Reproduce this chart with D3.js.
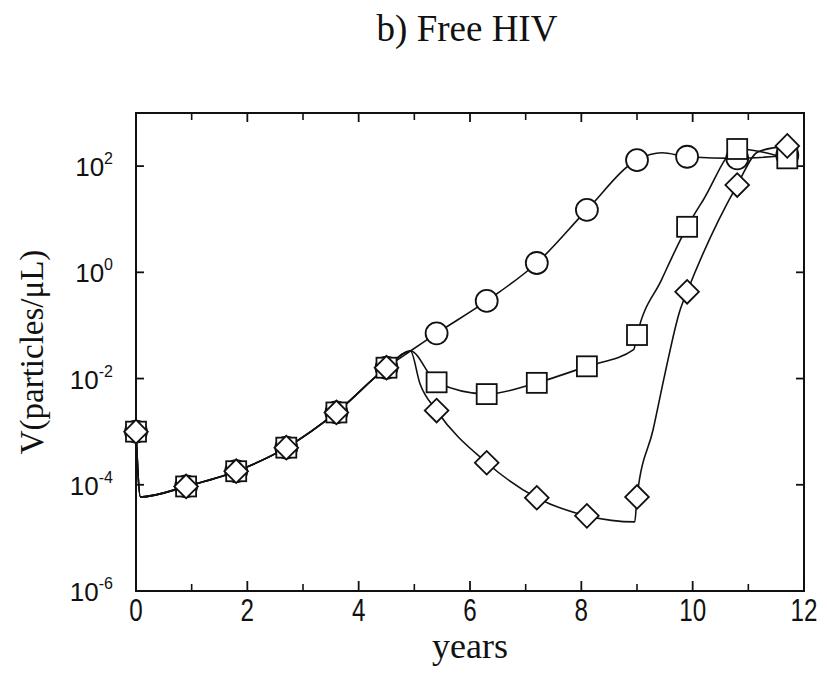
<!DOCTYPE html>
<html>
<head>
<meta charset="utf-8">
<script src="https://cdn.jsdelivr.net/npm/d3@7"></script>
<style>
body { margin: 0; background: #fff; }
</style>
</head>
<body>
<svg width="827" height="673"></svg>
<script>
// marker times (years) and values
var years = [0, 0.9, 1.8, 2.7, 3.6, 4.5, 5.4, 6.3, 7.2, 8.1, 9.0, 9.9, 10.8, 11.7];
var circleV  = [1.0e-3, 9.3e-5, 1.8e-4, 5.0e-4, 2.3e-3, 1.6e-2, 7.1e-2, 0.29, 1.5, 15, 130, 150, 140, 160];
var squareV  = [1.0e-3, 9.3e-5, 1.8e-4, 5.0e-4, 2.3e-3, 1.6e-2, 8.5e-3, 5.1e-3, 8.3e-3, 1.7e-2, 6.6e-2, 7.2, 210, 140];
var diamondV = [1.0e-3, 9.3e-5, 1.8e-4, 5.0e-4, 2.3e-3, 1.6e-2, 2.5e-3, 2.6e-4, 5.7e-5, 2.6e-5, 5.9e-5, 0.43, 44, 240];

// extra points where the curves bend between markers
var commonBends  = [[0.08, 5.9e-5], [4.93, 3.3e-2]];
var circleBends  = [[9.45, 178]];
var squareBends  = [[8.94, 3.5e-2], [9.44, 0.72], [10.19, 23]];
var diamondBends = [[5.1, 8.1e-3], [8.96, 2.0e-5], [9.29, 1.1e-3], [9.5, 1.2e-2], [9.77, 0.19], [11.17, 185]];

var xTicks = [0, 2, 4, 6, 8, 10, 12];
var xMinor = [1, 3, 5, 7, 9, 11];
var yExps = [2, 0, -2, -4, -6];

var svg = d3.select('svg');
var pL = 136, pR = 804, pT = 113, pB = 591;

var x = d3.scaleLinear().domain([0, 12]).range([pL, pR]);
var y = d3.scaleLog().domain([1e-6, 1e3]).range([pB, pT]);

function curvePts(vals, bends) {
  var p = years.map(function(t, i) { return [t, vals[i]]; });
  p = p.concat(commonBends, bends);
  p.sort(function(a, b) { return a[0] - b[0]; });
  return p;
}

var line = d3.line()
  .x(function(d) { return x(d[0]); })
  .y(function(d) { return y(d[1]); })
  .curve(d3.curveMonotoneX);

var g = svg.append('g');
[[circleV, circleBends], [squareV, squareBends], [diamondV, diamondBends]].forEach(function(s) {
  g.append('path').attr('d', line(curvePts(s[0], s[1])))
    .attr('fill', 'none').attr('stroke', '#111').attr('stroke-width', 1.6);
});

// frame
svg.append('rect').attr('x', pL).attr('y', pT).attr('width', pR - pL).attr('height', pB - pT)
  .attr('fill', 'none').attr('stroke', '#111').attr('stroke-width', 2);

// ticks (inward, all four sides)
xTicks.forEach(function(t) {
  svg.append('line').attr('x1', x(t)).attr('x2', x(t)).attr('y1', pB).attr('y2', pB - 10).attr('stroke', '#111').attr('stroke-width', 1.8);
  svg.append('line').attr('x1', x(t)).attr('x2', x(t)).attr('y1', pT).attr('y2', pT + 9).attr('stroke', '#111').attr('stroke-width', 1.8);
});
xMinor.forEach(function(t) {
  svg.append('line').attr('x1', x(t)).attr('x2', x(t)).attr('y1', pB).attr('y2', pB - 7).attr('stroke', '#111').attr('stroke-width', 1.6);
  svg.append('line').attr('x1', x(t)).attr('x2', x(t)).attr('y1', pT).attr('y2', pT + 7).attr('stroke', '#111').attr('stroke-width', 1.6);
});
yExps.forEach(function(e) {
  var yy = y(Math.pow(10, e));
  svg.append('line').attr('x1', pL).attr('x2', pL + 8).attr('y1', yy).attr('y2', yy).attr('stroke', '#111').attr('stroke-width', 1.8);
  svg.append('line').attr('x1', pR).attr('x2', pR - 8).attr('y1', yy).attr('y2', yy).attr('stroke', '#111').attr('stroke-width', 1.8);
});

// tick labels (condensed look: squeeze horizontally)
svg.selectAll('.xl').data(xTicks).enter().append('text')
  .attr('transform', function(d) { return 'translate(' + x(d) + ',621) scale(0.78,1)'; })
  .attr('text-anchor', 'middle')
  .style('font-family', '"Liberation Sans", Arial, sans-serif')
  .style('font-size', '31px').attr('fill', '#111')
  .text(function(d) { return d; });

yExps.forEach(function(e) {
  var t = svg.append('text').attr('x', 113).attr('y', y(Math.pow(10, e)) + 10)
    .attr('text-anchor', 'end')
    .style('font-family', '"Liberation Sans", Arial, sans-serif')
    .style('font-size', '26px').attr('fill', '#111');
  t.append('tspan').text('10');
  t.append('tspan').attr('dy', -12).style('font-size', '16px').text(e < 0 ? '-' + (-e) : e);
});

// axis titles
svg.append('text').attr('x', (pL + pR) / 2).attr('y', 658).attr('text-anchor', 'middle')
  .style('font-family', '"Liberation Serif", "Times New Roman", serif').style('font-size', '36px')
  .attr('fill', '#111').text('years');
svg.append('text').attr('transform', 'translate(43,' + ((pT + pB) / 2) + ') rotate(-90)')
  .attr('text-anchor', 'middle')
  .style('font-family', '"Liberation Serif", "Times New Roman", serif').style('font-size', '33px')
  .attr('fill', '#111').text('V(particles/\u03bcL)');
svg.append('text').attr('x', 467).attr('y', 41).attr('text-anchor', 'middle')
  .style('font-family', '"Liberation Serif", "Times New Roman", serif').style('font-size', '37px')
  .attr('fill', '#111').text('b) Free HIV');

// markers: circles, then squares, then diamonds on top
svg.selectAll('.c').data(years).enter().append('circle')
  .attr('cx', function(d) { return x(d); })
  .attr('cy', function(d, i) { return y(circleV[i]); })
  .attr('r', 11).attr('fill', '#fff').attr('stroke', '#111').attr('stroke-width', 1.8);
svg.selectAll('.s').data(years).enter().append('rect')
  .attr('x', function(d) { return x(d) - 10; })
  .attr('y', function(d, i) { return y(squareV[i]) - 10; })
  .attr('width', 20).attr('height', 20).attr('fill', '#fff').attr('stroke', '#111').attr('stroke-width', 1.8);
var dsym = d3.symbol().type(d3.symbolSquare).size(280);
svg.selectAll('.d').data(years).enter().append('path')
  .attr('d', dsym)
  .attr('transform', function(d, i) { return 'translate(' + x(d) + ',' + y(diamondV[i]) + ') rotate(45)'; })
  .attr('fill', '#fff').attr('stroke', '#111').attr('stroke-width', 1.8);
</script>
</body>
</html>
